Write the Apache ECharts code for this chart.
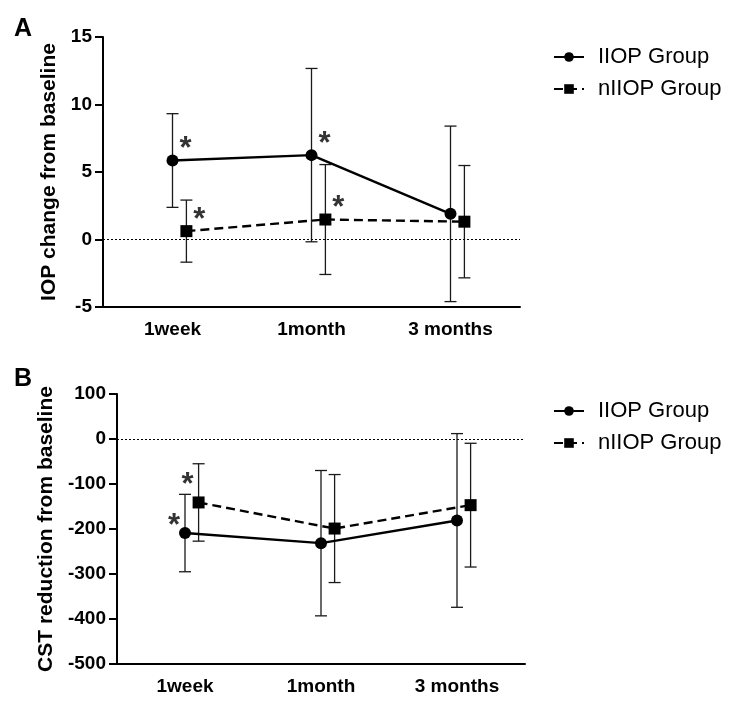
<!DOCTYPE html>
<html>
<head>
<meta charset="utf-8">
<script src="https://cdn.jsdelivr.net/npm/echarts@6/dist/echarts.min.js"></script>
<style>html,body{margin:0;padding:0;background:#fff}#c{width:732px;height:702px}</style>
</head>
<body>
<div id="c"></div>
<script>
// ---- data ----
const categories = ['1week', '1month', '3 months'];
const seriesNames = ['IIOP Group', 'nIIOP Group'];

// Panel A: IOP change from baseline (mean, SD)
const iopIIOPMean = [5.85, 6.25, 1.9];
const iopIIOPSD = [3.47, 6.42, 6.5];
const iopNIIOPMean = [0.62, 1.48, 1.32];
const iopNIIOPSD = [2.3, 4.07, 4.16];
const iopIIOPSig = [true, true, false];
const iopNIIOPSig = [true, true, false];
const iopTicks = { min: -5, max: 15, interval: 5 };

// Panel B: CST reduction from baseline (mean, SD)
const cstIIOPMean = [-209, -231.5, -181];
const cstIIOPSD = [86, 161.5, 193];
const cstNIIOPMean = [-141, -199, -147];
const cstNIIOPSD = [86, 120, 137.5];
const cstIIOPSig = [true, false, false];
const cstNIIOPSig = [true, false, false];
const cstTicks = { min: -500, max: 100, interval: 100 };

// horizontal offset of the nIIOP group (in category units)
const nOffset = 0.1;

// ---- build ----
const FONT = '"Liberation Sans", Arial, sans-serif';
const grids = [
  { left: 103, top: 37, width: 417, height: 270 },
  { left: 117, top: 394, width: 408, height: 270 }
];

function pts(means, off) { return means.map((m, i) => [i + off, m]); }
function errs(means, sds, off) { return means.map((m, i) => [i + off, m - sds[i], m + sds[i]]); }
function sigPts(means, sig, off) {
  const out = [];
  means.forEach((m, i) => { if (sig[i]) out.push([i + off, m]); });
  return out;
}

function errRender(params, api) {
  const x = api.value(0), lo = api.value(1), hi = api.value(2);
  const a = api.coord([x, lo]), b = api.coord([x, hi]);
  const w = 6;
  const st = { stroke: '#1a1a1a', lineWidth: 1.3 };
  return {
    type: 'group', children: [
      { type: 'line', shape: { x1: a[0], y1: a[1], x2: b[0], y2: b[1] }, style: st },
      { type: 'line', shape: { x1: a[0] - w, y1: a[1], x2: a[0] + w, y2: a[1] }, style: st },
      { type: 'line', shape: { x1: b[0] - w, y1: b[1], x2: b[0] + w, y2: b[1] }, style: st }
    ]
  };
}

const axisLineStyle = { color: '#000', width: 2 };

const xAxes = [], yAxes = [];
[0, 1].forEach(g => {
  xAxes.push({
    type: 'category', gridIndex: g, data: categories, boundaryGap: true,
    axisLine: { onZero: false, lineStyle: axisLineStyle },
    axisTick: { alignWithLabel: true, length: 7, lineStyle: { color: '#000', width: 2 } },
    axisLabel: { color: '#000', fontWeight: 'bold', fontSize: 19, fontFamily: FONT, margin: 13 },
    splitLine: { show: false }
  });
  xAxes.push({ type: 'value', gridIndex: g, show: false, min: -0.5, max: 2.5 });
});
const yNames = ['IOP change from baseline', 'CST reduction from baseline'];
const yT = [iopTicks, cstTicks];
const nameGaps = [41, 55];
[0, 1].forEach(g => {
  yAxes.push({
    type: 'value', gridIndex: g, min: yT[g].min, max: yT[g].max, interval: yT[g].interval,
    name: yNames[g], nameLocation: 'middle', nameGap: nameGaps[g],
    nameTextStyle: { color: '#000', fontWeight: 'bold', fontSize: 21, fontFamily: FONT },
    axisLine: { show: true, onZero: false, lineStyle: axisLineStyle },
    axisTick: { show: true, length: 8, lineStyle: { color: '#000', width: 2 } },
    axisLabel: { color: '#000', fontWeight: 'bold', fontSize: 19, fontFamily: FONT, margin: 11 },
    splitLine: { show: false }
  });
});

function panelSeries(g, m1, s1, sig1, m2, s2, sig2, starOff1, starOff2) {
  const xi = g * 2 + 1, yi = g;
  const lineCommon = {
    type: 'line', xAxisIndex: xi, yAxisIndex: yi, symbolSize: 12,
    itemStyle: { color: '#000' }, z: 5, animation: false
  };
  const starLabel = (off) => ({
    show: true, formatter: '*', color: '#000', fontSize: 31, fontWeight: 'bold',
    fontFamily: FONT, position: 'inside', offset: off
  });
  return [
    {
      type: 'custom', xAxisIndex: xi, yAxisIndex: yi, renderItem: errRender,
      data: errs(m1, s1, 0), encode: { x: 0, y: [1, 2] }, silent: true, z: 3, animation: false
    },
    {
      type: 'custom', xAxisIndex: xi, yAxisIndex: yi, renderItem: errRender,
      data: errs(m2, s2, nOffset), encode: { x: 0, y: [1, 2] }, silent: true, z: 3, animation: false
    },
    Object.assign({}, lineCommon, {
      name: seriesNames[0], symbol: 'circle', data: pts(m1, 0),
      lineStyle: { color: '#000', width: 2.4, type: 'solid' },
      markLine: {
        silent: true, symbol: 'none', label: { show: false }, animation: false,
        lineStyle: { color: '#000', width: 1, type: [2, 2] },
        data: [{ yAxis: 0 }]
      }
    }),
    Object.assign({}, lineCommon, {
      name: seriesNames[1], symbol: 'rect', data: pts(m2, nOffset),
      lineStyle: { color: '#000', width: 2.4, type: [9, 5] }
    }),
    {
      type: 'scatter', xAxisIndex: xi, yAxisIndex: yi, symbolSize: 1,
      itemStyle: { color: 'rgba(0,0,0,0)' }, silent: true, animation: false,
      data: sigPts(m1, sig1, 0), label: starLabel(starOff1), z: 6
    },
    {
      type: 'scatter', xAxisIndex: xi, yAxisIndex: yi, symbolSize: 1,
      itemStyle: { color: 'rgba(0,0,0,0)' }, silent: true, animation: false,
      data: sigPts(m2, sig2, nOffset), label: starLabel(starOff2), z: 6
    }
  ];
}

const series = [].concat(
  panelSeries(0, iopIIOPMean, iopIIOPSD, iopIIOPSig, iopNIIOPMean, iopNIIOPSD, iopNIIOPSig, [13, -11], [13, -11]),
  panelSeries(1, cstIIOPMean, cstIIOPSD, cstIIOPSig, cstNIIOPMean, cstNIIOPSD, cstNIIOPSig, [-11, -7], [-11, -17])
);

const legendCommon = {
  orient: 'vertical', left: 548, itemWidth: 30, itemHeight: 12, itemGap: 10,
  data: seriesNames, selectedMode: false,
  textStyle: { color: '#000', fontSize: 22, fontFamily: FONT, lineHeight: 22, padding: [0, 0, 0, 9] }
};

const option = {
  backgroundColor: '#fff',
  animation: false,
  title: [
    { text: 'A', left: 9, top: 12, textStyle: { fontSize: 25, fontWeight: 'bold', color: '#000', fontFamily: FONT } },
    { text: 'B', left: 9, top: 362, textStyle: { fontSize: 25, fontWeight: 'bold', color: '#000', fontFamily: FONT } }
  ],
  legend: [
    Object.assign({}, legendCommon, { top: 41 }),
    Object.assign({}, legendCommon, { top: 395 })
  ],
  grid: grids,
  xAxis: xAxes,
  yAxis: yAxes,
  series: series
};

const chart = echarts.init(document.getElementById('c'), null, { renderer: 'canvas' });
chart.setOption(option);
</script>
</body>
</html>
